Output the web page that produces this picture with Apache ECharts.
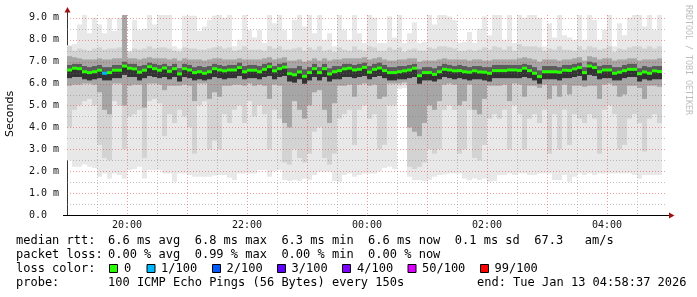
<!DOCTYPE html>
<html><head><meta charset="utf-8">
<script src="https://cdn.jsdelivr.net/npm/echarts@6/dist/echarts.min.js"></script>
<style>html,body{margin:0;padding:0;background:#fff}#c{width:697px;height:297px}</style>
</head><body><div id="c"></div>
<script>
// ---- data (5-minute bins starting 19:00) ----
const stepMinutes = 5;
const median = [
6.62,6.70,6.68,6.54,6.50,6.54,6.61,6.47,6.50,6.61,6.61,6.80,6.70,6.67,6.52,6.61,6.77,6.68,6.61,6.71,6.56,6.68,6.44,6.68,6.62,6.50,6.54,6.47,6.54,6.68,
6.62,6.58,6.62,6.62,6.73,6.54,6.61,6.61,6.54,6.65,6.77,6.58,6.68,6.75,6.45,6.40,6.53,6.33,6.50,6.68,6.50,6.68,6.44,6.54,6.59,6.67,6.70,6.62,6.65,6.74,
6.52,6.65,6.71,6.59,6.50,6.50,6.54,6.58,6.62,6.70,6.36,6.50,6.50,6.42,6.54,6.65,6.62,6.58,6.59,6.54,6.52,6.58,6.53,6.52,6.47,6.59,6.59,6.59,6.62,6.62,
6.60,6.70,6.59,6.47,6.32,6.54,6.54,6.54,6.52,6.61,6.60,6.67,6.73,6.50,6.80,6.73,6.54,6.62,6.62,6.47,6.52,6.59,6.65,6.65,6.45,6.53,6.47,6.58,6.55];
const pMin = [
2.5,2.2,2.2,2.3,2.2,2.15,1.75,1.9,1.67,1.9,1.83,1.67,2.05,2.1,2.2,1.67,2.05,2.05,2.05,1.9,1.9,1.52,1.9,1.9,1.83,1.75,1.75,1.75,1.75,1.8,
1.83,1.83,1.7,1.6,1.9,1.9,1.9,1.9,2.05,2.05,1.75,2.0,2.05,1.6,1.55,1.6,1.55,1.65,1.6,1.83,1.98,1.98,1.98,1.55,1.52,1.83,1.9,1.75,1.83,1.9,
1.9,1.9,2.0,2.15,2.2,2.1,5.75,5.8,1.75,1.6,1.6,1.55,1.6,1.75,1.83,1.85,1.9,1.9,1.9,1.67,1.6,1.67,1.6,1.67,1.52,1.55,1.83,1.83,1.9,1.83,
1.9,1.9,1.83,1.83,1.9,1.9,1.9,1.6,1.6,1.83,1.52,1.75,1.9,1.83,1.9,1.83,1.9,1.9,1.9,1.9,1.9,1.9,1.9,1.83,1.67,1.83,1.83,1.83,1.83];
const p10 = [
4.0,4.8,5.0,5.2,5.3,5.0,3.2,2.6,2.5,5.2,5.0,3.0,4.5,4.6,4.8,2.6,5.2,5.3,5.1,3.6,4.6,4.2,4.8,4.5,4.0,2.8,5.0,5.2,3.0,3.4,
3.0,4.6,4.2,4.8,5.0,4.2,5.2,4.5,5.0,4.6,3.0,4.8,4.4,2.4,2.3,3.0,2.6,2.4,2.8,3.8,4.0,2.6,2.3,2.8,4.4,4.6,4.8,3.2,4.8,5.0,
4.4,4.6,3.0,3.2,5.0,5.0,5.9,5.95,2.2,2.1,2.2,2.4,3.0,2.8,3.0,4.8,5.0,4.8,2.8,3.0,4.8,2.6,2.5,3.2,4.4,4.6,4.4,4.8,3.0,5.0,
4.6,3.0,4.4,4.6,4.2,4.8,2.8,4.6,3.0,4.8,3.2,4.6,4.4,4.2,4.6,4.4,2.8,4.8,5.0,4.6,3.0,3.2,4.4,4.6,4.2,2.9,4.4,4.6,4.2];
const p25 = [
5.9,5.95,5.95,6.0,6.0,5.95,5.6,4.8,4.6,6.0,6.0,5.0,5.9,5.95,5.95,4.9,6.0,6.0,5.95,5.7,5.9,5.9,5.9,5.95,5.9,5.2,6.0,6.0,5.3,5.6,
5.4,5.9,5.9,5.95,5.95,5.9,6.0,5.9,5.95,5.9,5.3,5.95,5.9,4.2,4.0,5.2,4.8,4.4,5.0,5.6,5.7,4.8,4.2,5.1,5.9,5.9,5.95,5.4,5.95,6.0,
5.9,5.95,5.3,5.4,6.0,6.0,6.0,6.05,4.0,3.8,3.6,4.2,5.0,4.8,5.2,5.95,6.0,5.95,5.0,5.2,5.95,4.8,4.6,5.3,5.9,5.9,5.9,5.95,5.2,6.0,
5.95,5.4,5.9,5.9,5.8,5.95,5.3,5.9,5.4,5.95,5.5,5.9,5.9,5.85,5.9,5.9,5.3,5.95,6.0,5.9,5.4,5.5,5.9,5.9,5.8,5.3,5.9,5.9,5.85];
const p40 = [
6.25,6.3,6.3,6.2,6.15,6.2,6.25,6.15,6.15,6.25,6.25,6.4,6.3,6.3,6.15,6.25,6.35,6.3,6.25,6.3,6.2,6.3,6.1,6.3,6.25,6.15,6.2,6.15,6.2,6.3,
6.25,6.2,6.25,6.25,6.35,6.2,6.25,6.25,6.2,6.3,6.35,6.2,6.3,6.35,6.1,6.05,6.2,6.0,6.15,6.3,6.15,6.3,6.1,6.2,6.2,6.3,6.3,6.25,6.3,6.35,
6.2,6.3,6.35,6.25,6.15,6.15,6.2,6.2,6.25,6.3,6.0,6.15,6.15,6.1,6.2,6.3,6.25,6.2,6.25,6.2,6.15,6.2,6.2,6.15,6.1,6.25,6.25,6.25,6.25,6.25,
6.25,6.3,6.25,6.15,6.0,6.2,6.2,6.2,6.15,6.25,6.25,6.3,6.35,6.15,6.4,6.35,6.2,6.25,6.25,6.15,6.15,6.25,6.3,6.3,6.1,6.2,6.15,6.2,6.2];
const p60 = [
6.85,6.9,6.9,6.8,6.75,6.8,6.85,6.75,6.75,6.85,6.85,7.0,6.9,6.9,6.8,6.85,6.95,6.9,6.85,6.9,6.8,6.9,6.7,6.9,6.85,6.75,6.8,6.75,6.8,6.9,
6.85,6.8,6.85,6.85,6.95,6.8,6.85,6.85,6.8,6.9,6.95,6.8,6.9,6.95,6.7,6.7,6.8,6.65,6.75,6.9,6.75,6.9,6.7,6.8,6.8,6.9,6.9,6.85,6.9,6.95,
6.8,6.9,6.95,6.85,6.75,6.75,6.8,6.8,6.85,6.9,6.65,6.75,6.75,6.7,6.8,6.9,6.85,6.8,6.85,6.8,6.75,6.8,6.8,6.75,6.75,6.85,6.85,6.85,6.85,6.85,
6.85,6.9,6.85,6.75,6.6,6.8,6.8,6.8,6.75,6.85,6.85,6.9,6.95,6.75,7.0,6.95,6.8,6.85,6.85,6.75,6.75,6.85,6.9,6.9,6.7,6.8,6.75,6.8,6.8];
const p75 = [
7.25,7.2,7.15,7.1,7.1,7.1,7.15,7.1,7.1,7.15,7.15,9.13,7.15,7.15,7.1,7.15,7.2,7.15,7.15,7.15,7.1,7.15,7.05,7.15,7.1,7.1,7.1,7.05,7.1,7.15,
7.15,7.1,7.1,7.1,7.15,7.1,7.1,7.1,7.1,7.15,7.2,7.1,7.15,7.2,7.05,7.05,7.1,7.0,7.05,7.15,7.05,7.15,7.05,7.1,7.1,7.15,7.15,7.15,7.15,7.2,
7.1,7.15,7.2,7.1,7.05,7.05,7.1,7.1,7.15,7.15,7.0,7.05,7.05,7.05,7.1,7.15,7.1,7.1,7.1,7.1,7.05,7.1,7.1,7.05,7.05,7.1,7.1,7.1,7.1,7.1,
7.15,7.2,7.15,7.1,7.0,7.1,7.1,7.1,7.05,7.1,7.1,7.15,7.2,7.05,7.25,7.2,7.1,7.15,7.15,7.05,7.1,7.1,7.15,7.15,7.05,7.1,7.1,7.1,7.15];
const p90 = [
7.7,7.5,7.6,7.55,7.5,7.6,7.65,7.55,7.6,7.6,7.65,9.13,7.45,7.6,7.55,7.6,7.7,7.6,7.65,7.65,7.6,7.5,7.45,7.65,7.6,7.6,7.55,7.55,7.6,7.65,
7.7,7.6,7.65,7.5,7.55,7.7,7.55,7.55,7.55,7.5,7.7,7.6,7.7,7.55,7.55,7.6,7.65,7.5,7.65,7.55,7.7,7.5,7.55,7.45,7.65,7.55,7.5,7.7,7.55,7.5,
7.7,7.65,7.5,7.5,7.65,7.55,7.65,7.45,7.55,7.6,7.5,7.5,7.65,7.6,7.7,7.7,7.65,7.6,7.5,7.5,7.55,7.5,7.55,7.65,7.55,7.7,7.65,7.55,7.7,7.5,
7.8,7.7,7.7,7.7,7.65,7.5,7.6,7.55,7.7,7.55,7.55,7.5,7.7,7.55,7.7,7.65,7.55,7.6,7.7,7.45,7.6,7.55,7.65,7.7,7.7,7.6,7.7,7.6,7.7];
const pMax = [
7.75,7.8,8.7,9.13,8.3,9.0,8.7,8.3,9.0,8.4,9.0,9.13,7.5,8.9,8.45,8.5,9.13,8.7,9.13,9.13,9.13,7.7,7.6,9.1,9.1,9.1,8.4,8.6,8.9,9.1,
9.13,9.0,9.13,7.7,8.0,9.13,8.45,8.1,8.45,7.85,9.13,8.75,9.13,8.45,8.0,8.9,9.13,8.6,9.13,8.3,9.13,8.0,8.3,7.7,9.13,8.45,8.0,9.13,8.3,7.85,
9.13,9.0,7.85,7.85,9.06,8.1,9.13,7.85,8.3,8.8,7.85,7.9,9.13,8.7,9.13,9.13,9.06,8.9,7.85,7.9,8.35,7.85,8.5,9.06,8.2,9.13,9.13,8.0,9.13,7.85,
9.13,9.0,9.13,9.13,9.0,7.7,8.75,8.1,9.13,8.2,8.1,8.0,9.13,8.0,9.13,8.9,8.0,8.45,9.13,7.7,8.75,8.2,9.0,9.13,9.13,8.6,9.13,8.45,9.13];
const lossEvents = [[7, 1]];           // [bin, lost pings of 100]

const yTickLabels = ['0.0','1.0 m','2.0 m','3.0 m','4.0 m','5.0 m','6.0 m','7.0 m','8.0 m','9.0 m'];
const xTickMinutes = [60, 180, 300, 420, 540];
const xTickLabels = ['20:00','22:00','00:00','02:00','04:00'];

const lossThresholds = [0, 1, 2, 3, 4, 50, 99];
const lossLabels = ['0','1/100','2/100','3/100','4/100','50/100','99/100'];
const lossColors = ['#26ff00','#00b8ff','#0059ff','#5e00ff','#7e00ff','#dd00ff','#ff0000'];

const rttStats = '6.6 ms avg  6.8 ms max  6.3 ms min  6.6 ms now  0.1 ms sd  67.3   am/s';
const lossStats = '0.00 % avg  0.99 % max  0.00 % min  0.00 % now';
const probeText = '100 ICMP Echo Pings (56 Bytes) every 150s';
const endText = 'end: Tue Jan 13 04:58:37 2026';

// ---- build ----
const lossByBin = {};
lossEvents.forEach(([b, l]) => { lossByBin[b] = l; });
const smokeData = [], medData = [];
for (let i = 0; i < median.length; i++) {
  const t0 = i * stepMinutes, t1 = t0 + stepMinutes;
  smokeData.push([t0, t1, pMin[i], p10[i], p25[i], p40[i], p60[i], p75[i], p90[i], pMax[i], median[i]]);
  medData.push([t0, t1, median[i], lossByBin[i] || 0]);
}
function lossColor(l) {
  let c = lossColors[0];
  for (let k = 0; k < lossThresholds.length; k++) if (l >= lossThresholds[k]) c = lossColors[k];
  return c;
}
const gridData = [];
for (let v = 1; v <= 9; v++) gridData.push(['y', v, 1]);
for (let v = 0.5; v < 9; v += 1) gridData.push(['y', v, 0]);
for (let m = 60; m < 600; m += 60) gridData.push(['x', m, 1]);
for (let m = 30; m < 600; m += 60) gridData.push(['x', m, 0]);

const MONO = '"DejaVu Sans Mono", monospace';
const chart = echarts.init(document.getElementById('c'), null, {renderer: 'canvas'});

// [lower dim, upper dim, colour] drawn from outermost to innermost
const smokeLayers = [[2, 9, '#e8e8e8'], [3, 8, '#d3d3d3'], [4, 7, '#a6a6a6'], [5, 6, '#5c5c5c'], [5, 10, '#333333']];

const legendGraphics = [];
function txt(x, y, s) {
  legendGraphics.push({type: 'text', x: x, y: y, silent: true,
    style: {text: s, font: '12px ' + MONO, fill: '#000', align: 'left', verticalAlign: 'middle',
            textAlign: 'left', textVerticalAlign: 'middle'}});
}
txt(16, 241, 'median rtt:'); txt(108, 241, rttStats);
txt(16, 255, 'packet loss:'); txt(108, 255, lossStats);
txt(16, 269, 'loss color:');
const boxX = [109, 146.5, 212, 277, 342, 407.5, 480];
const labX = [124, 161, 226.5, 291.5, 357, 422, 494.5];
lossLabels.forEach((l, k) => {
  legendGraphics.push({type: 'rect', silent: true, shape: {x: boxX[k] + 0.5, y: 264.5, width: 8, height: 8},
    style: {fill: lossColors[k], stroke: '#000', lineWidth: 1}});
  txt(labX[k], 269, l);
});
txt(16, 283, 'probe:'); txt(108, 283, probeText);
txt(477, 283, endText);

const option = {
  animation: false,
  backgroundColor: '#fff',
  grid: {left: 67, top: 15, width: 600, height: 200, containLabel: false},
  xAxis: {
    type: 'value', min: 0, max: 600, interval: 60,
    axisLine: {show: false}, axisTick: {show: false}, splitLine: {show: false},
    axisLabel: {
      margin: 5, fontFamily: MONO, fontSize: 10, color: '#111',
      formatter: v => { const k = xTickMinutes.indexOf(Math.round(v)); return k >= 0 ? xTickLabels[k] : ''; }
    }
  },
  yAxis: {
    type: 'value', min: 0, max: 9.13, interval: 1,
    axisLine: {show: false}, axisTick: {show: false}, splitLine: {show: false},
    axisLabel: {
      margin: 38, align: 'left', fontFamily: MONO, fontSize: 10, color: '#111',
      formatter: v => { const r = Math.round(v); return Math.abs(v - r) < 1e-6 && yTickLabels[r] ? yTickLabels[r] : ''; }
    }
  },
  series: [
    {
      type: 'custom', name: 'smoke', z: 1, clip: true, silent: true,
      data: smokeData,
      renderItem: (params, api) => {
        const x0 = api.coord([api.value(0), 0])[0];
        const x1 = api.coord([api.value(1), 0])[0];
        const children = smokeLayers.map(([a, b, c]) => {
          const ya = api.coord([0, api.value(a)])[1];
          const yb = api.coord([0, api.value(b)])[1];
          return {type: 'rect', shape: {x: x0, y: Math.min(ya, yb), width: x1 - x0, height: Math.abs(ya - yb)}, style: {fill: c}};
        });
        return {type: 'group', children: children};
      }
    },
    {
      type: 'custom', name: 'grid', z: 2, silent: true, clip: false,
      data: gridData,
      renderItem: (params, api) => {
        const d = gridData[params.dataIndex];
        const major = d[2] === 1;
        const stroke = major ? 'rgba(225,40,40,0.45)' : 'rgba(120,120,120,0.45)';
        let shape;
        if (d[0] === 'y') {
          const y = Math.round(api.coord([0, d[1]])[1]) + 0.5;
          shape = {x1: 67, y1: y, x2: 667, y2: y};
        } else {
          const x = Math.round(api.coord([d[1], 0])[0]) + 0.5;
          shape = {x1: x, y1: 15, x2: x, y2: 215};
        }
        return {type: 'line', shape: shape, style: {stroke: stroke, lineWidth: 1, lineDash: [1, 2]}};
      }
    },
    {
      type: 'custom', name: 'median', z: 3, clip: true, silent: true,
      data: medData,
      renderItem: (params, api) => {
        const x0 = api.coord([api.value(0), 0])[0];
        const x1 = api.coord([api.value(1), 0])[0];
        const y = api.coord([0, api.value(2)])[1];
        return {type: 'rect', shape: {x: x0, y: y - 1.5, width: x1 - x0, height: 3},
                style: {fill: lossColor(api.value(3))}};
      }
    }
  ],
  graphic: [
    {type: 'line', silent: true, shape: {x1: 67.5, y1: 215, x2: 67.5, y2: 11}, style: {stroke: '#333', lineWidth: 1}},
    {type: 'line', silent: true, shape: {x1: 63, y1: 215.5, x2: 670, y2: 215.5}, style: {stroke: '#000', lineWidth: 1}},
    {type: 'polygon', silent: true, shape: {points: [[64.5, 12.5], [70.5, 12.5], [67.5, 7]]}, style: {fill: '#a01010'}},
    {type: 'polygon', silent: true, shape: {points: [[669, 212.5], [669, 218.5], [674.5, 215.5]]}, style: {fill: '#a01010'}},
    {type: 'text', silent: true, x: 10.5, y: 114, rotation: Math.PI / 2,
     style: {text: 'Seconds', font: '11px "DejaVu Sans", sans-serif', fill: '#000', align: 'center', verticalAlign: 'middle',
             textAlign: 'center', textVerticalAlign: 'middle'}},
    {type: 'text', silent: true, x: 688, y: 60, rotation: -Math.PI / 2,
     style: {text: 'RRDTOOL / TOBI OETIKER', font: '8.3px ' + MONO, fill: '#bdbdbd', align: 'center', verticalAlign: 'middle',
             textAlign: 'center', textVerticalAlign: 'middle'}}
  ].concat(legendGraphics)
};
chart.setOption(option);
</script>
</body></html>
